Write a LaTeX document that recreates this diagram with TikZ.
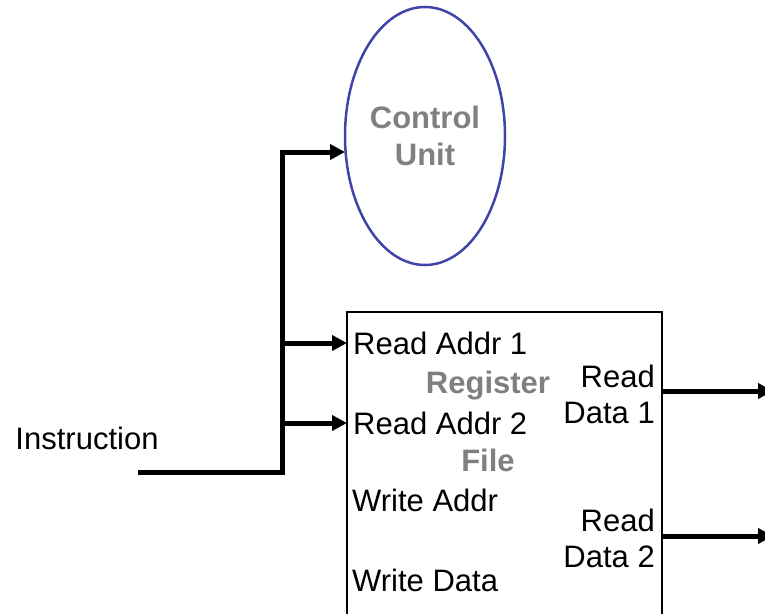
\documentclass[tikz,border=0pt]{standalone}
\usepackage{fontspec}
\setmainfont{Liberation Sans}
\usepackage{tikz}
\usetikzlibrary{arrows.meta,shapes.geometric}
\definecolor{cublue}{RGB}{64,68,168}
\definecolor{lblgray}{RGB}{128,128,128}

\begin{document}
\begin{tikzpicture}[x=1pt, y=-1pt,
    bus/.style={line width=5pt},
    sig/.style={line width=5pt, -{Triangle[length=15pt,width=15pt]}},
    lbl/.style={font=\fontsize{31}{36}\selectfont, inner sep=0pt},
    title/.style={lbl, font=\fontsize{31}{37}\selectfont\bfseries, text=lblgray, align=center}]
        \useasboundingbox (0,0) rectangle (765,613);
        \clip (0,0) rectangle (765,613);
        \node[ellipse, draw=cublue, line width=2.5pt, minimum width=160pt, minimum height=258pt,
              inner sep=0pt, title] (cu) at (425,136) {Control\\Unit};
        \draw[line width=1.8pt] (347,312) rectangle (662,650);
        \coordinate (rfw) at (347,312);
        \coordinate (rfe) at (662,312);
        \node[lbl, anchor=west] (ra1) at (353,343) {Read Addr 1};
        \node[lbl, anchor=west] (ra2) at (353,423) {Read Addr 2};
        \node[lbl, anchor=west] (wa) at (352,500) {Write Addr};
        \node[lbl, anchor=west] (wd) at (352,580) {Write Data};
        \node[title] (reg) at (488,386) {Register};
        \node[title] (file) at (488,460) {File};
        \node[lbl, anchor=east, align=right] (rd1) at (655,394) {Read\\Data 1};
        \node[lbl, anchor=east, align=right] (rd2) at (655,538) {Read\\Data 2};
        \node[lbl] (instr) at (87,438) {Instruction};
        \coordinate (in) at (138,472);
        \coordinate (bot) at (282,472);
        \coordinate (top) at (282,152);
        \coordinate (out1) at (773,391);
        \coordinate (out2) at (773,536);
        \draw[bus] (in) -- (bot) -- ([yshift=-2.5pt]top);
        \draw[sig] ([xshift=-2.5pt]top) -- (345,152);
        \draw[sig] (bot |- ra1) -- (rfw |- ra1);
        \draw[sig] (bot |- ra2) -- (rfw |- ra2);
        \draw[sig] (rfe |- out1) -- (out1);
        \draw[sig] (rfe |- out2) -- (out2);
    \end{tikzpicture}
\end{document}
